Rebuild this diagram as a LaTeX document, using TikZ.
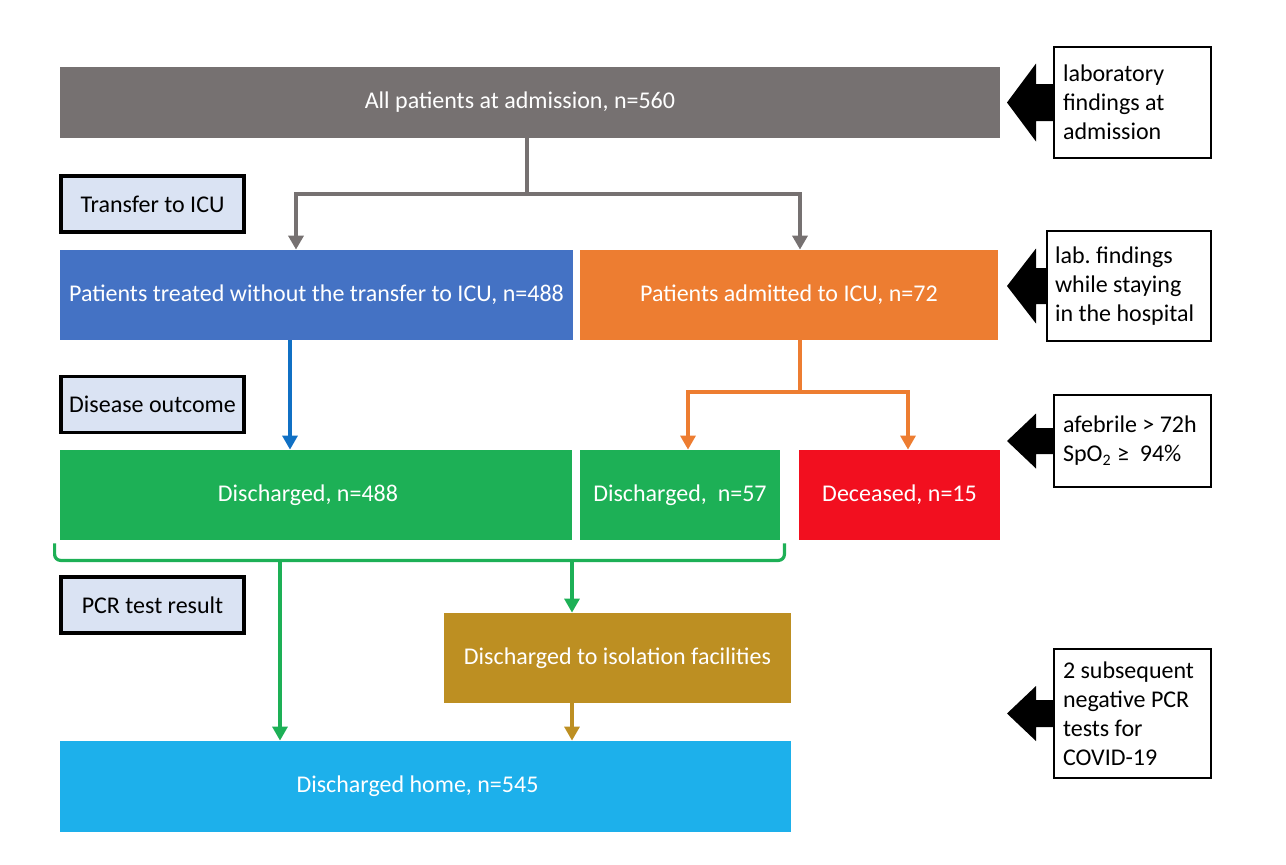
\documentclass[tikz,border=0pt]{standalone}
\usepackage{fontspec}
\setmainfont{Carlito}
\usetikzlibrary{arrows.meta,calc}
\definecolor{cgray}{HTML}{767171}
\definecolor{cblue}{HTML}{4472C4}
\definecolor{corange}{HTML}{ED7D31}
\definecolor{cgreen}{HTML}{1DB056}
\definecolor{cred}{HTML}{F20F1F}
\definecolor{cgold}{HTML}{BD8F22}
\definecolor{ccyan}{HTML}{1DB0EB}
\definecolor{clabel}{HTML}{DAE3F3}
\definecolor{cdblue}{HTML}{1070C4}
\newcommand\blockarr[4]{\fill[black] ($(#1.west)+(0,-#3)$) -- ++(-#2,0) -- ++(0,{-(#4-#3)}) -- ++(-29,#4) -- ++(29,#4) -- ++(0,{-(#4-#3)}) -- ($(#1.west)+(0,#3)$) -- cycle;}
\begin{document}
\begin{tikzpicture}[x=0.5pt,y=-0.5pt,
  every node/.style={font=\fontsize{12}{14.5}\selectfont},
  flow/.style={rectangle, draw=none, fill=#1, text=white, inner sep=0pt, minimum height=45pt},
  stage/.style={rectangle, draw=black, line width=1.8pt, fill=clabel, minimum width=91.5pt, minimum height=28pt, inner sep=0pt},
  note/.style={rectangle, draw=black, line width=1pt, fill=white, align=flush left, inner xsep=4.5pt, inner ysep=0pt, text width=69.5pt},
  tip/.style={-{Triangle[width=7.5pt,length=7pt]}},
  gconn/.style={draw=cgray, line width=2pt},
  oconn/.style={draw=corange, line width=1.6pt},
  bconn/.style={draw=cdblue, line width=1.6pt},
  grconn/.style={draw=cgreen, line width=1.6pt},
  goconn/.style={draw=cgold, line width=1.6pt},
]
\useasboundingbox (0,0) rectangle (1286,864);
% main flow boxes
\node[flow=cgray, minimum width=470pt, minimum height=35.5pt] (gray) at (530,102.5) {All patients at admission, n=560\hspace*{10pt}};
\node[flow=cblue, minimum width=256.5pt] (blue) at (316.5,295) {Patients treated without the transfer to ICU, n=488};
\node[flow=corange, minimum width=209pt] (orange) at (789,295) {Patients admitted to ICU, n=72};
\node[flow=cgreen, minimum width=256pt] (green1) at (316,495) {Discharged, n=488\hspace*{8pt}};
\node[flow=cgreen, minimum width=100pt] (green2) at (680,495) {Discharged,\ \ n=57};
\node[flow=cred, minimum width=100.5pt] (red) at (899.5,495) {Deceased, n=15};
\node[flow=cgold, minimum width=173.5pt] (gold) at (617.5,658) {Discharged to isolation facilities};
\node[flow=ccyan, minimum width=365.5pt, minimum height=45.5pt] (cyan) at (425.5,786.5) {Discharged home, n=545\hspace*{8pt}};
% stage labels
\node[stage] (s1) at (152.5,204) {Transfer to ICU};
\node[stage] (s2) at (152.5,404.5) {Disease outcome};
\node[stage] (s3) at (152.5,605) {PCR test result};
% notes
\node[note, minimum width=78.5pt, minimum height=55.5pt] (n1) at (1132.5,102.5) {laboratory\\findings at\\admission};
\node[note, minimum width=82pt, minimum height=55pt, inner xsep=4pt, text width=74pt] (n2) at (1129,286) {lab.\ findings\\while staying\\in the hospital};
\node[note, minimum width=78.5pt, minimum height=46pt] (n3) at (1132.5,441) {afebrile > 72h\\SpO\textsubscript{2} ≥\ \ 94\%};
\node[note, minimum width=78.5pt, minimum height=64.5pt] (n4) at (1132.5,713.5) {2 subsequent\\negative PCR\\tests for\\COVID-19};
\blockarr{n1}{17}{18.5}{39}
\blockarr{n2}{10}{18}{37.5}
\blockarr{n3}{17}{13}{27.5}
\blockarr{n4}{17}{13.5}{27.5}
% gray split
\coordinate (gsplit) at (527,194);
\coordinate (gL) at (296,0);
\coordinate (gR) at (800,0);
\draw[gconn] (gray.south -| gsplit) -- (gsplit);
\draw[gconn, tip] (gsplit) -| (blue.north -| gL);
\draw[gconn, tip] (gsplit) -| (orange.north -| gR);
% blue
\coordinate (bx) at (290,0);
\draw[bconn, tip] (blue.south -| bx) -- (green1.north -| bx);
% orange split
\coordinate (osplit) at (800,392);
\coordinate (oL) at (688,0);
\coordinate (oR) at (908,0);
\draw[oconn] (orange.south -| osplit) -- (osplit);
\draw[oconn, tip] (osplit) -| (green2.north -| oL);
\draw[oconn, tip] (osplit) -| (red.north -| oR);
% green bracket
\draw[grconn, rounded corners=3pt] ($(green1.south west)+(-5,3)$) -- ++(0,17) -| ($(green2.south east)+(4,3)$);
\coordinate (brL) at (280,560);
\coordinate (brR) at (572,560);
\draw[grconn, tip] (brL) -- (cyan.north -| brL);
\draw[grconn, tip] (brR) -- (gold.north -| brR);
\draw[goconn, tip] (gold.south -| brR) -- (cyan.north -| brR);
\end{tikzpicture}
\end{document}
